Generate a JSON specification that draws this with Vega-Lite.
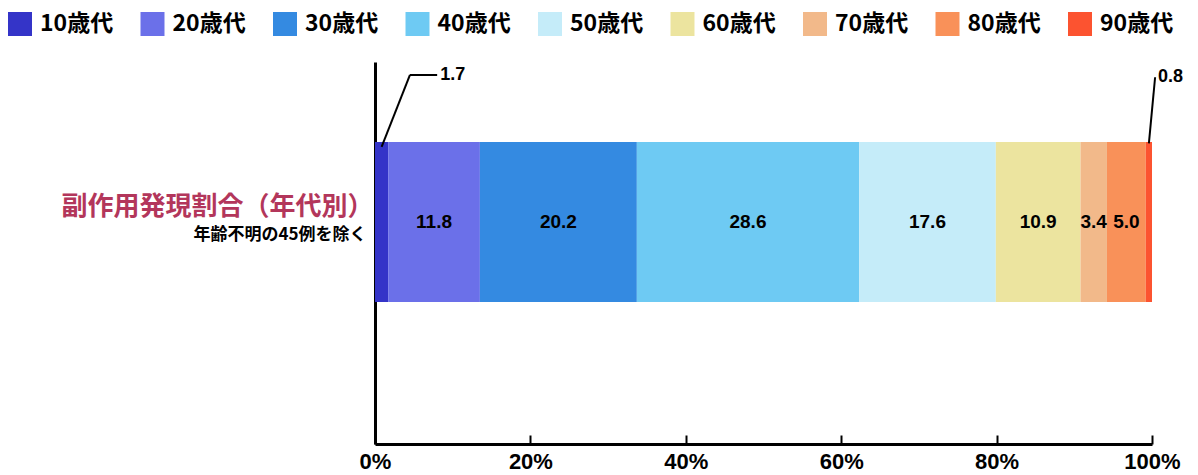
{
  "$schema": "https://vega.github.io/schema/vega-lite/v6.json",
  "autosize": {"type": "none"},
  "padding": {"left": 375, "top": 62, "right": 46, "bottom": 31},
  "width": 777,
  "height": 382,
  "background": "white",
  "config": {
    "view": {"stroke": null},
    "font": "Noto Sans CJK JP",
    "axisX": {
      "title": null,
      "grid": false,
      "labelFlush": false,
      "labelOverlap": false,
      "domainColor": "black",
      "domainWidth": 3,
      "tickColor": "black",
      "tickWidth": 2,
      "tickSize": -9,
      "labelFont": "Liberation Sans",
      "labelFontSize": 22,
      "labelFontWeight": "bold",
      "labelColor": "black",
      "labelPadding": 16
    }
  },
  "datasets": {
    "年代別": [
      {"項目": "副作用発現割合（年代別）", "年代": "10歳代", "割合": 1.7},
      {"項目": "副作用発現割合（年代別）", "年代": "20歳代", "割合": 11.8},
      {"項目": "副作用発現割合（年代別）", "年代": "30歳代", "割合": 20.2},
      {"項目": "副作用発現割合（年代別）", "年代": "40歳代", "割合": 28.6},
      {"項目": "副作用発現割合（年代別）", "年代": "50歳代", "割合": 17.6},
      {"項目": "副作用発現割合（年代別）", "年代": "60歳代", "割合": 10.9},
      {"項目": "副作用発現割合（年代別）", "年代": "70歳代", "割合": 3.4},
      {"項目": "副作用発現割合（年代別）", "年代": "80歳代", "割合": 5.0},
      {"項目": "副作用発現割合（年代別）", "年代": "90歳代", "割合": 0.8}
    ],
    "注記": [
      {"ラベル": "1.7", "x0": 0.85, "y0": 77.8, "x1": 4.5, "y1": 96.6, "x2": 8.0, "y2": 96.6},
      {"ラベル": "0.8", "x0": 99.6, "y0": 78.7, "x1": 100.4, "y1": 96.0, "x2": 100.4, "y2": 96.0}
    ]
  },
  "layer": [
    {
      "data": {"name": "年代別"},
      "encoding": {
        "y": {
          "field": "項目",
          "type": "nominal",
          "scale": {"paddingInner": 0, "paddingOuter": 0.69375, "align": 0.36},
          "axis": {
            "title": "年齢不明の45例を除く",
            "titleAngle": 0,
            "titleAlign": "right",
            "titleBaseline": "middle",
            "titleX": -9,
            "titleY": 172,
            "titleFont": "Noto Sans CJK JP",
            "titleFontSize": 17,
            "titleFontWeight": "bold",
            "titleColor": "black",
            "ticks": false,
            "domainColor": "black",
            "domainWidth": 3,
            "labelFont": "Noto Sans CJK JP",
            "labelFontSize": 26,
            "labelFontWeight": "bold",
            "labelColor": "#b3365b",
            "labelPadding": 2,
            "labelOffset": -15,
            "labelLimit": 400
          }
        },
        "x": {
          "field": "割合",
          "type": "quantitative",
          "stack": "zero",
          "scale": {"domain": [0, 100], "nice": false},
          "axis": {
            "values": [0, 20, 40, 60, 80, 100],
            "labelExpr": "datum.value + '%'",
            "title": null,
            "labelFlush": false
          }
        },
        "order": {"field": "年代", "type": "nominal"}
      },
      "layer": [
        {
          "mark": {"type": "bar"},
          "encoding": {
            "color": {
              "field": "年代",
              "type": "nominal",
              "scale": {
                "domain": ["10歳代", "20歳代", "30歳代", "40歳代", "50歳代", "60歳代", "70歳代", "80歳代", "90歳代"],
                "range": ["#3434c8", "#6b70e9", "#348ae1", "#6ecaf3", "#c5ecf9", "#ece49f", "#f2b98a", "#f99159", "#fc5330"]
              },
              "legend": {
                "title": null,
                "orient": "none",
                "legendX": -367,
                "legendY": -50,
                "direction": "horizontal",
                "columns": 9,
                "gridAlign": "all",
                "padding": 0,
                "symbolType": "square",
                "symbolSize": 576,
                "symbolStrokeWidth": 0,
                "symbolOpacity": 1,
                "labelFont": "Noto Sans CJK JP",
                "labelFontSize": 23,
                "labelFontWeight": "bold",
                "labelColor": "black",
                "labelOffset": 8,
                "labelLimit": 200,
                "columnPadding": 26.5
              }
            }
          }
        },
        {
          "mark": {"type": "text", "font": "Liberation Sans", "fontSize": 19, "fontWeight": "bold", "color": "black", "baseline": "middle", "align": "center"},
          "encoding": {
            "x": {"field": "割合", "type": "quantitative", "stack": "zero", "bandPosition": 0.5},
            "detail": {"field": "年代", "type": "nominal"},
            "text": {
              "condition": {"test": "datum['割合'] < 2", "value": ""},
              "field": "割合",
              "type": "quantitative",
              "format": ".1f"
            }
          }
        }
      ]
    },
    {
      "data": {"name": "注記"},
      "layer": [
        {
          "mark": {"type": "rule", "color": "black", "strokeWidth": 2},
          "encoding": {
            "x": {"field": "x0", "type": "quantitative"},
            "x2": {"field": "x1"},
            "y": {"field": "y0", "type": "quantitative", "scale": {"domain": [0, 100], "nice": false}, "axis": null},
            "y2": {"field": "y1"}
          }
        },
        {
          "mark": {"type": "rule", "color": "black", "strokeWidth": 2},
          "encoding": {
            "x": {"field": "x1", "type": "quantitative"},
            "x2": {"field": "x2"},
            "y": {"field": "y1", "type": "quantitative", "axis": null},
            "y2": {"field": "y2"}
          }
        },
        {
          "mark": {"type": "text", "font": "Liberation Sans", "fontSize": 18, "fontWeight": "bold", "color": "black", "align": "left", "baseline": "middle", "dx": 3},
          "encoding": {
            "x": {"field": "x2", "type": "quantitative"},
            "y": {"field": "y2", "type": "quantitative", "axis": null},
            "text": {"field": "ラベル"}
          }
        }
      ]
    }
  ],
  "resolve": {"scale": {"y": "independent"}, "axis": {"y": "independent"}}
}
